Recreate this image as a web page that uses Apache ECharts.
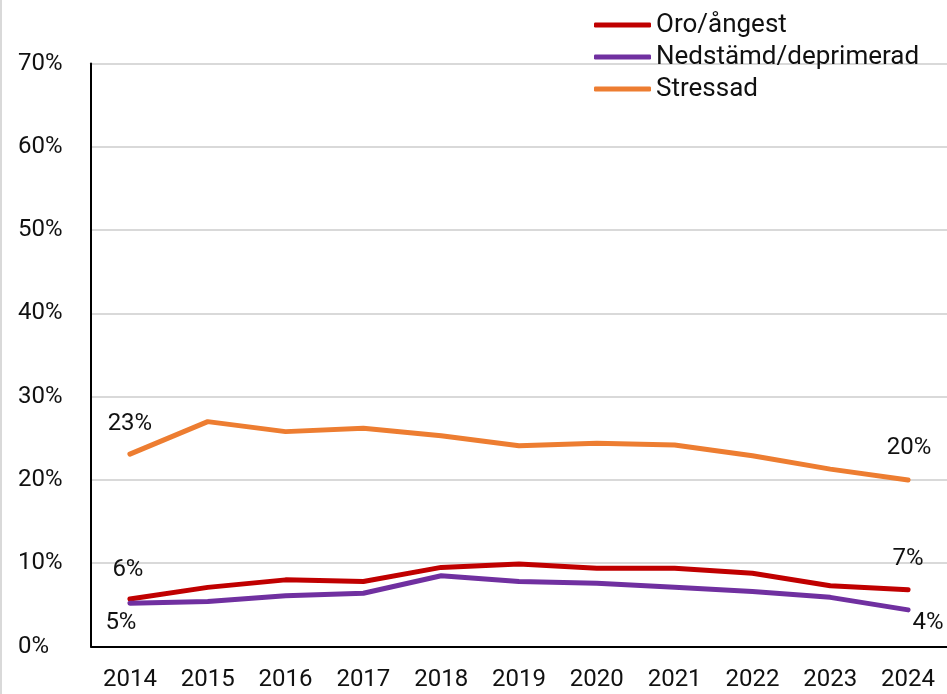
<!DOCTYPE html>
<html>
<head>
<meta charset="utf-8">
<script src="https://cdn.jsdelivr.net/npm/echarts@6/dist/echarts.min.js"></script>
<style>
    html,body{margin:0;padding:0;background:#fff;}
    #chart{width:947px;height:694px;}
</style>
</head>
<body>
<div id="chart"></div>
<script>
let years = ["2014","2015","2016","2017","2018","2019","2020","2021","2022","2023","2024"];
let oro = [5.7,7.1,8.0,7.8,9.5,9.9,9.4,9.4,8.8,7.3,6.8];
let nedstamd = [5.2,5.4,6.1,6.4,8.5,7.8,7.6,7.1,6.6,5.9,4.4];
let stressad = [23.1,27.0,25.8,26.2,25.3,24.1,24.4,24.2,22.9,21.3,20.0];
let yTicks = [0,10,20,30,40,50,60,70];

let font = "Roboto";

// first and last point get a label, positioned per series
let withLabels = (values, first, last) => {
    return values.map((v, i) => {
        if (i == 0) return {value: v, label: Object.assign({show: true}, first)};
        if (i == values.length - 1) return {value: v, label: Object.assign({show: true}, last)};
        return v;
    });
};//withLabels-----end

let mkSeries = (name, color, data) => {
    return {
        name: name,
        type: 'line',
        data: data,
        symbol: 'circle',
        symbolSize: 0,
        showSymbol: true,
        smooth: false,
        lineStyle: {color: color, width: 5, cap: 'round', join: 'round'},
        itemStyle: {color: color},
        label: {
            show: false,
            fontFamily: font,
            fontSize: 24,
            color: '#111',
            formatter: (p) => Math.round(p.value) + '%'
        }
    };
};//mkSeries-----end

var myChart = echarts.init(document.getElementById('chart'));

let option = {
    backgroundColor: '#fff',
    animation: false,
    graphic: [{
        type: 'rect',
        shape: {x: 0, y: 0, width: 2, height: 694},
        style: {fill: '#d9d9d9'}
    }],
    legend: {
        orient: 'vertical',
        left: 594,
        top: 12,
        padding: 0,
        icon: 'roundRect',
        itemWidth: 57,
        itemHeight: 5,
        itemGap: 6,
        textStyle: {fontFamily: font, fontSize: 26, color: '#111', lineHeight: 24},
        data: ['Oro/ångest', 'Nedstämd/deprimerad', 'Stressad']
    },
    grid: {left: 91, right: 0, top: 63.5, bottom: 47.5, containLabel: false},
    xAxis: {
        type: 'category',
        data: years,
        boundaryGap: true,
        axisLine: {show: true, lineStyle: {color: '#000', width: 2}},
        axisTick: {show: false},
        axisLabel: {fontFamily: font, fontSize: 24, color: '#111', margin: 21}
    },
    yAxis: {
        type: 'value',
        min: yTicks[0],
        max: yTicks[yTicks.length - 1],
        interval: 10,
        axisLine: {show: true, lineStyle: {color: '#000', width: 2}},
        axisTick: {show: false},
        splitLine: {show: true, lineStyle: {color: '#d9d9d9', width: 2}},
        axisLabel: {
            fontFamily: font, fontSize: 24, color: '#111',
            align: 'left', margin: 73,
            formatter: '{value}%'
        }
    },
    series: [
        mkSeries('Oro/ångest', '#C00000',
            withLabels(oro, {position: 'top', distance: 17, offset: [-2, 0]},
                            {position: 'top', distance: 19, offset: [0, 0]})),
        mkSeries('Nedstämd/deprimerad', '#7030A0',
            withLabels(nedstamd, {position: 'bottom', distance: 8, offset: [-9, 0]},
                                 {position: 'bottom', distance: 0, offset: [20, 1]})),
        mkSeries('Stressad', '#ED7D31',
            withLabels(stressad, {position: 'top', distance: 18, offset: [0, 0]},
                                 {position: 'top', distance: 20, offset: [1, 0]}))
    ]
};

myChart.setOption(option);
</script>
</body>
</html>
